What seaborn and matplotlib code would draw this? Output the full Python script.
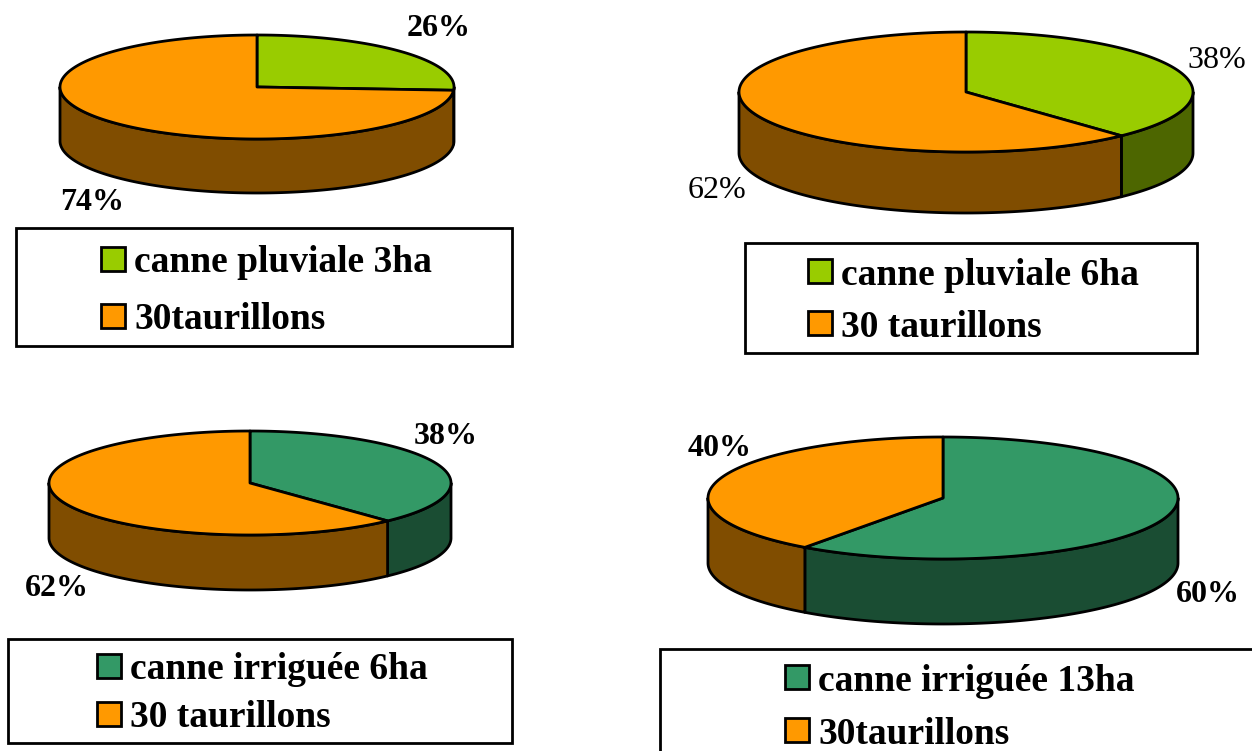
import numpy as np
import matplotlib
matplotlib.use("Agg")
import matplotlib.pyplot as plt
from matplotlib.patches import Rectangle
import seaborn as sns

# -----------------------------
# DATA
# -----------------------------
pie_a_values = [26, 74]
pie_b_values = [38, 62]
pie_c_values = [38, 62]
pie_d_values = [60, 40]

pie_a_labels = ["canne pluviale 3ha", "30taurillons"]
pie_b_labels = ["canne pluviale 6ha", "30 taurillons"]
pie_c_labels = ["canne irriguée 6ha", "30 taurillons"]
pie_d_labels = ["canne irriguée 13ha", "30taurillons"]

# -----------------------------
# STYLE / LAYOUT
# -----------------------------
GREEN = ("#99CC00", "#4D6600")
SEA = ("#339966", "#1A4D33")
ORANGE = ("#FF9900", "#804D00")

sns.set_theme(style="white")
plt.rcParams['font.family'] = ['Liberation Serif', 'DejaVu Serif']
LW = 2.0
FS = 27


def ellipse(cx, cy, rx, ry, theta):
    # theta is clockwise from the top of the pie, in degrees
    t = np.radians(theta)
    return cx + rx * np.sin(t), cy - ry * np.cos(t)


def draw_pie(ax, cx, cy, rx, ry, depth, values, colors):
    bounds = np.cumsum([0] + list(values)) / sum(values) * 360
    for start, end, (top, side) in zip(bounds[:-1], bounds[1:], colors):
        # outer wall, only the front half is visible
        lo, hi = max(start, 90), min(end, 270)
        if hi > lo:
            th = np.linspace(lo, hi, 200)
            x, y = ellipse(cx, cy, rx, ry, th)
            ax.fill(np.r_[x, x[::-1]], np.r_[y, y[::-1] + depth],
                    facecolor=side, edgecolor="black", lw=LW, joinstyle="round")
    for start, end, (top, side) in zip(bounds[:-1], bounds[1:], colors):
        th = np.linspace(start, end, 300)
        x, y = ellipse(cx, cy, rx, ry, th)
        ax.fill(np.r_[cx, x], np.r_[cy, y],
                facecolor=top, edgecolor="black", lw=LW, joinstyle="round")


def draw_legend(ax, box, swatch_x, swatch_ys, text_x, text_dy, labels, colors, size=FS):
    x0, y0, x1, y1 = box
    ax.add_patch(Rectangle((x0, y0), x1 - x0, y1 - y0, facecolor="white",
                           edgecolor="black", lw=LW, clip_on=True))
    for sy, label, (top, _) in zip(swatch_ys, labels, colors):
        ax.add_patch(Rectangle((swatch_x, sy), 24, 24, facecolor=top,
                               edgecolor="black", lw=LW))
        ax.text(text_x, sy + 24 + text_dy, label, fontsize=size, fontweight="bold",
                ha="left", va="baseline", color="black")


fig = plt.figure(figsize=(12.52, 7.51), dpi=100)
ax = fig.add_axes([0, 0, 1, 1])
ax.set_xlim(0, 1252)
ax.set_ylim(751, 0)
ax.axis("off")

charts = [
    dict(geom=(257, 87, 197, 52, 54), values=pie_a_values, labels=pie_a_labels, cols=(GREEN, ORANGE),
         pct=[(439, 28), (92, 202)], bold=True,
         box=(16, 228, 512, 346), sx=101, sys=(247, 304), tx=134, dy=1),
    dict(geom=(966, 92, 227, 60, 61), values=pie_b_values, labels=pie_b_labels, cols=(GREEN, ORANGE),
         pct=[(1217, 60), (717, 191)], bold=False,
         box=(745, 243, 1197, 353), sx=808, sys=(259, 311), tx=841, dy=2),
    dict(geom=(250, 483, 201, 52, 55), values=pie_c_values, labels=pie_c_labels, cols=(SEA, ORANGE),
         pct=[(446, 437), (57, 588)], bold=True,
         box=(8, 639, 512, 743), sx=97, sys=(654, 702), tx=130, dy=1),
    dict(geom=(943, 498, 235, 61, 65), values=pie_d_values, labels=pie_d_labels, cols=(SEA, ORANGE),
         pct=[(1208, 595), (720, 448)], bold=True,
         box=(660, 649, 1262, 761), sx=785, sys=(665, 718), tx=818, dy=2),
]

for c in charts:
    draw_pie(ax, *c["geom"], c["values"], c["cols"])
    for (px, py), v in zip(c["pct"], c["values"]):
        ax.text(px, py, f"{v}%", fontsize=23, ha="center", va="center", color="black",
                fontweight="bold" if c["bold"] else "normal")
    draw_legend(ax, c["box"], c["sx"], c["sys"], c["tx"], c["dy"], c["labels"], c["cols"])

fig.savefig("out.png", dpi=100, facecolor="white")
